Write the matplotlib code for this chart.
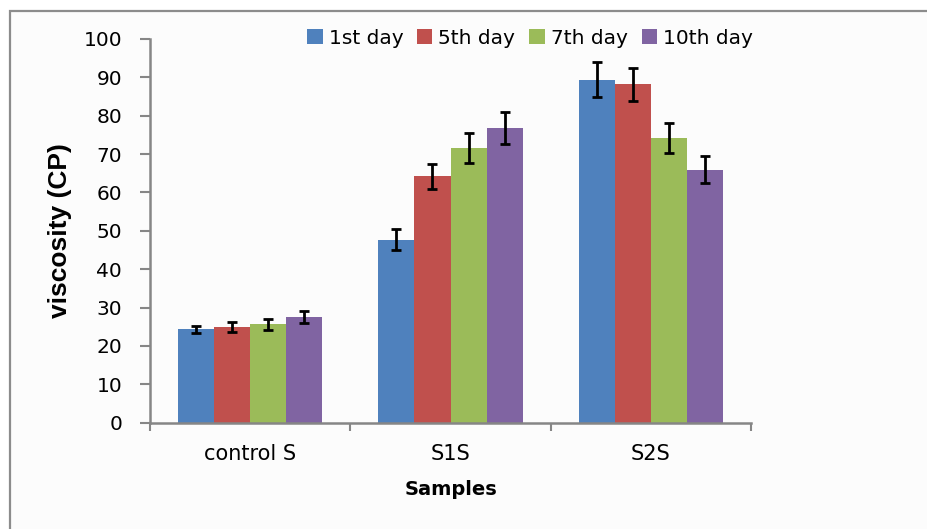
import matplotlib
matplotlib.use("Agg")
import matplotlib.pyplot as plt
from matplotlib.patches import Rectangle
import numpy as np

categories = ["control S", "S1S", "S2S"]
series_names = ["1st day", "5th day", "7th day", "10th day"]
day1 = [24.3, 47.7, 89.4]
day5 = [25.0, 64.2, 88.2]
day7 = [25.6, 71.6, 74.2]
day10 = [27.6, 76.8, 65.9]
err1 = [1.0, 2.7, 4.5]
err5 = [1.3, 3.2, 4.3]
err7 = [1.4, 3.9, 3.9]
err10 = [1.5, 4.1, 3.5]
yticks = [0, 10, 20, 30, 40, 50, 60, 70, 80, 90, 100]

values = [day1, day5, day7, day10]
errors = [err1, err5, err7, err10]
colors = ["#4F81BD", "#C0504D", "#9BBB59", "#8064A2"]

fig = plt.figure(figsize=(9.27, 5.29), dpi=100)
fig.patch.set_facecolor("white")
bg = Rectangle((10/927, -0.05), 1.0, 1.05 - 11/529,
               transform=fig.transFigure, facecolor="#fcfcfc",
               edgecolor="#8c8c8c", linewidth=1.6, zorder=-10)
fig.patches.append(bg)

ax = fig.add_axes([150/927, 1 - 422.7/529, (751 - 150)/927, (422.7 - 39)/529])
ax.set_zorder(1)
ax.set_facecolor("none")

x = np.arange(len(categories))
w = 0.18
for i, (vals, errs, c, name) in enumerate(zip(values, errors, colors, series_names)):
    ax.bar(x + (i - 1.5) * w, vals, width=w, color=c, label=name, zorder=2)
    ax.errorbar(x + (i - 1.5) * w, vals, yerr=errs, fmt="none", ecolor="black",
                elinewidth=2, capsize=3.6, capthick=2, zorder=3)

ax.set_xlim(-0.5, 2.5)
ax.set_ylim(0, 100)
ax.set_yticks(yticks)
ax.set_yticklabels([str(t) for t in yticks], fontsize=14.5, family="DejaVu Sans")
ax.set_xticks(x)
ax.set_xticklabels(categories, fontsize=15, family="DejaVu Sans")
ax.set_xticks([-0.5, 0.5, 1.5, 2.5], minor=True)
ax.tick_params(axis="x", which="major", length=0, pad=15)
ax.tick_params(axis="x", which="minor", length=6, width=1.5, color="#868686", direction="out")
ax.tick_params(axis="y", length=7, width=1.5, color="#868686", pad=13)

for s in ["top", "right"]:
    ax.spines[s].set_visible(False)
for s in ["left", "bottom"]:
    ax.spines[s].set_color("#868686")
    ax.spines[s].set_linewidth(1.8)

ax.set_ylabel("viscosity (CP)", fontsize=19, fontweight="bold", family="Liberation Sans", labelpad=8)
ax.set_xlabel("Samples", fontsize=14, fontweight="bold", family="DejaVu Sans", labelpad=12)

leg = fig.legend(loc="center", bbox_to_anchor=((300 + 760) / 2 / 927, 1 - 38/529), ncol=4,
                 frameon=False, prop={"family": "DejaVu Sans", "size": 14.5},
                 handlelength=0.75, handleheight=0.75,
                 columnspacing=0.7, handletextpad=0.3)

fig.savefig("out.png", dpi=100)
